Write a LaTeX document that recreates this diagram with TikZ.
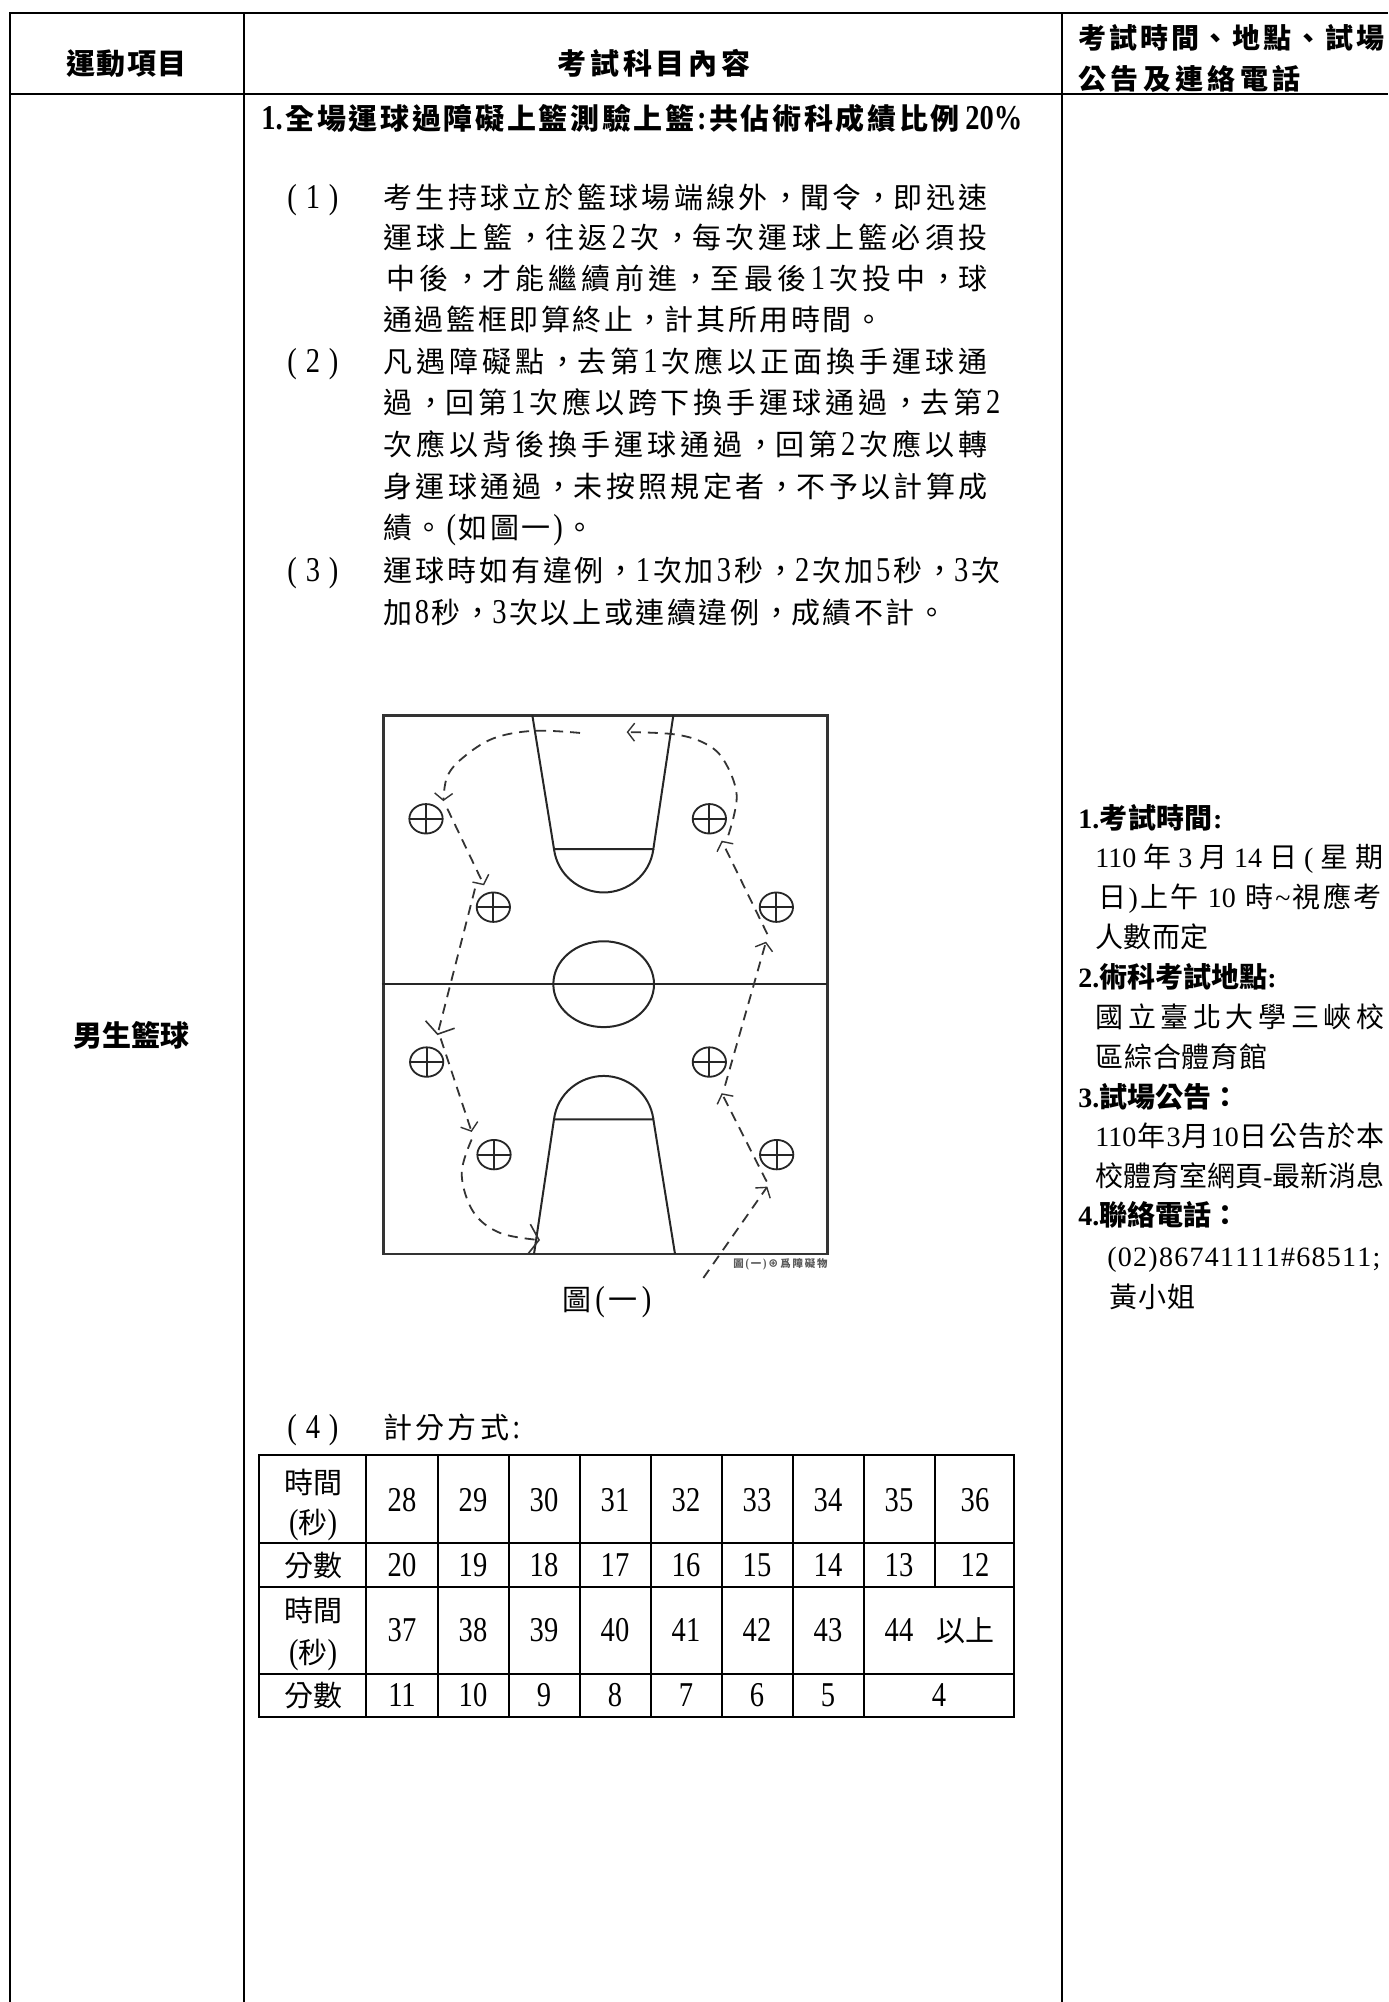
\documentclass[tikz,border=0pt]{standalone}
\usepackage{fontspec}
\usetikzlibrary{arrows.meta}
\setmainfont{Liberation Serif}
\newfontfamily\cjk{Noto Sans CJK TC}
\newfontfamily\latn[Scale=1.2,FakeStretch=.82]{Liberation Serif}
\newfontfamily\latr{Liberation Serif}
\let\curlat\latn
\newcount\cc
\cc="2E80 \loop \XeTeXcharclass\cc=1 \advance\cc by 1 \ifnum\cc<"A000 \repeat
\cc="F900 \loop \XeTeXcharclass\cc=1 \advance\cc by 1 \ifnum\cc<"FB00 \repeat
\cc="FF00 \loop \XeTeXcharclass\cc=1 \advance\cc by 1 \ifnum\cc<"FFF0 \repeat
\XeTeXcharclass"2295=1
\XeTeXinterchartokenstate=1
\XeTeXinterchartoks 1 1 = {\hfil}
\XeTeXinterchartoks 0 1 = {\hfil\cjk}
\XeTeXinterchartoks 1 0 = {\hfil\curlat}
\XeTeXinterchartoks 4095 1 = {\cjk}
\XeTeXinterchartoks 4095 0 = {\curlat}
\def\cma{\char"FF0C\relax}
\def\fcl{\char"FF1A\relax}
\newcount\tn
\newcommand\tln[5][body]{\global\advance\tn by 1
  \node[#1,anchor=base west,name=t\the\tn] at (#2,#4+11)
    {\hbox to \dimexpr 0.5pt*\numexpr #3-#2\relax\relax{#5}};}
\newcommand\ctr[4][cell]{\global\advance\tn by 1
  \node[#1,anchor=base,name=t\the\tn] at (#2,#3+11) {#4};}
\tikzset{
  body/.style={inner sep=0pt,font=\fontsize{14.5}{17}\selectfont},
  bodyb/.style={inner sep=0pt,font=\fontsize{14.5}{17}\selectfont\bfseries},
  side/.style={inner sep=0pt,font=\fontsize{14}{17}\selectfont\let\curlat\latr},
  sideb/.style={inner sep=0pt,font=\fontsize{14}{17}\selectfont\bfseries\let\curlat\latr},
  cell/.style={inner sep=0pt,font=\fontsize{14.5}{17}\selectfont},
  legendtxt/.style={inner sep=0pt,text=black!65,font=\fontsize{5.2}{6}\selectfont\bfseries},
  rule/.style={line width=1pt},
  courtline/.style={line width=1pt,black!85},
  courtbox/.style={line width=1.3pt,black!80},
  obst/.style={line width=.9pt,black!85},
  route/.style={line width=.9pt,black!80,dash pattern=on 5pt off 3.5pt,
    -{Straight Barb[length=3.5pt,width=9pt,line width=.7pt]}},
  routebig/.style={line width=.9pt,black!80,dash pattern=on 5pt off 3.5pt,
    -{Straight Barb[length=5pt,width=15pt,line width=.8pt]}}
}
\begin{document}
\begin{tikzpicture}[x=0.5pt,y=-0.5pt]
\useasboundingbox (0,0) rectangle (1388,2002);
\fill[white] (0,0) rectangle (1388,2002);
% outer table
\draw[rule] (9,13) -- (1388,13);
\draw[rule] (9,94) -- (1388,94);
\draw[rule] (10,13) -- (10,2002);
\draw[rule] (244,13) -- (244,2002);
\draw[rule] (1062,13) -- (1062,2002);
% headers
\tln[bodyb]{66}{186}{63}{運動項目}
\tln[bodyb]{557}{750}{63}{考試科目內容}
\tln[sideb]{1078}{1384}{37}{考試時間、地點、試場}
\tln[sideb]{1078}{1300}{78}{公告及連絡電話}
\tln[bodyb]{73}{188}{1035}{男生籃球}
% main text
\tln[bodyb]{261}{1022}{118}{1.全場運球過障礙上籃測驗上籃:共佔術科成績比例\hfil\hfil 20\%}
\tln{287}{338}{197}{(\hfil1\hfil)}
\tln{383}{987}{197}{考生持球立於籃球場端線外\cma 聞令\cma 即迅速}
\tln{383}{987}{237}{運球上籃\cma 往返2次\cma 每次運球上籃必須投}
\tln{386}{987}{278}{中後\cma 才能繼續前進\cma 至最後1次投中\cma 球}
\tln{383}{883}{319}{通過籃框即算終止\cma 計其所用時間。}
\tln{287}{338}{361}{(\hfil2\hfil)}
\tln{383}{987}{361}{凡遇障礙點\cma 去第1次應以正面換手運球通}
\tln{383}{1000}{402}{過\cma 回第1次應以跨下換手運球通過\cma 去第2}
\tln{383}{987}{444}{次應以背後換手運球通過\cma 回第2次應以轉}
\tln{383}{987}{486}{身運球通過\cma 未按照規定者\cma 不予以計算成}
\tln{383}{594}{527}{績。(如圖一)。}
\tln{287}{338}{570}{(\hfil3\hfil)}
\tln{383}{1000}{570}{運球時如有違例\cma 1次加3秒\cma 2次加5秒\cma 3次}
\tln{383}{946}{612}{加8秒\cma 3次以上或連續違例\cma 成績不計。}
% court
\begin{scope}[shift={(360,690)},x=0.166667pt,y=-0.21044pt]
  \draw[courtbox] (70,60) rectangle (1402,1340);
  \draw[courtline] (65,699) -- (1402,699);
  \draw[courtline] (517,60) -- (582,378) -- (880,378) -- (940,60);
  \draw[courtline] (582,378) .. controls (592,440) and (660,481) .. (731,481)
     .. controls (802,481) and (870,440) .. (880,378);
  \draw[courtline] (731,699) ellipse [x radius=151,y radius=102];
  \draw[courtline] (522,1340) -- (582,1020) -- (880,1020) -- (945,1340);
  \draw[courtline] (582,1020) .. controls (592,958) and (660,917) .. (731,917)
     .. controls (802,917) and (870,958) .. (880,1020);
  \foreach \ox/\oy in {198/306,400/516,1048/306,1249/516,200/884,402/1104,1048/884,1250/1104}{
    \draw[obst] (\ox,\oy) ellipse [x radius=50,y radius=35];
    \draw[obst] (\ox-50,\oy) -- (\ox+50,\oy);
    \draw[obst] (\ox,\oy-35) -- (\ox,\oy+35);
  }
  \draw[route] (1030,1397) -- (1222,1180);
  \draw[route] (1220,1168) -- (1085,958);
  \draw[route] (1095,940) -- (1218,598);
  \draw[route] (1222,580) -- (1085,358);
  \draw[route] plot[smooth,tension=.6] coordinates {(1105,345) (1130,250) (1090,165) (1030,125) (940,105) (800,100)};
  \draw[route] plot[smooth,tension=.6] coordinates {(660,102) (520,97) (400,115) (310,160) (262,205) (250,264)};
  \draw[route] (262,282) -- (372,464);
  \draw[routebig] (345,472) -- (232,820);
  \draw[route] (242,828) -- (335,1050);
  \draw[routebig] plot[smooth,tension=.6] coordinates {(335,1068) (305,1150) (340,1240) (420,1290) (540,1307)};
\end{scope}
\tln[legendtxt]{733}{827}{1256}{圖(一)⊕爲障礙物}
\tln{562}{651}{1299}{圖(一)}
% item 4
\tln{287}{338}{1427}{(\hfil4\hfil)}
\tln{383}{520}{1427}{計分方式:}
% score table
\draw[rule] (259,1455) rectangle (1014,1717);
\foreach \ry in {1543,1587,1674}{\draw[rule] (259,\ry) -- (1014,\ry);}
\foreach \cx in {366,438,509,580,651,722,793,864}{\draw[rule] (\cx,1455) -- (\cx,1717);}
\draw[rule] (935,1455) -- (935,1587);
\ctr{313}{1482}{時間}
\ctr{313}{1522}{(秒)}
\ctr{313}{1565}{分數}
\ctr{313}{1610}{時間}
\ctr{313}{1652}{(秒)}
\ctr{313}{1695}{分數}
\foreach \cx/\a/\b in {402/28/20,473/29/19,544/30/18,615/31/17,686/32/16,757/33/15,828/34/14,899/35/13,975/36/12}{
  \ctr{\cx}{1500}{\a}
  \ctr{\cx}{1565}{\b}
}
\foreach \cx/\a/\b in {402/37/11,473/38/10,544/39/9,615/40/8,686/41/7,757/42/6,828/43/5}{
  \ctr{\cx}{1630}{\a}
  \ctr{\cx}{1695}{\b}
}
\ctr{899}{1630}{44}
\ctr{965}{1630}{以上}
\ctr{939}{1695}{4}
% right column
\tln[sideb]{1078}{1222}{817}{1.考試時間:}
\tln[side]{1095}{1383}{856}{110年3月14日(星期}
\tln[side]{1098}{1381}{896}{日)上午\hfil\hfil\hfil\hfil 10\hfil\hfil\hfil\hfil 時\char126 視應考}
\tln[side]{1095}{1208}{936}{人數而定}
\tln[sideb]{1078}{1273}{976}{2.術科考試地點:}
\tln[side]{1095}{1384}{1016}{國立臺北大學三峽校}
\tln[side]{1095}{1267}{1056}{區綜合體育館}
\tln[sideb]{1078}{1228}{1096}{3.試場公告\fcl}
\tln[side]{1095}{1384}{1135}{110年3月10日公告於本}
\tln[side]{1095}{1373}{1175}{校體育室網頁-最新消息}
\tln[sideb]{1078}{1228}{1214}{4.聯絡電話\fcl}
\tln[side]{1107}{1380}{1255}{(\hfil0\hfil2\hfil)\hfil8\hfil6\hfil7\hfil4\hfil1\hfil1\hfil1\hfil1\hfil\#\hfil6\hfil8\hfil5\hfil1\hfil1\hfil;}
\tln[side]{1109}{1195}{1296}{黃小姐}
\end{tikzpicture}
\end{document}
